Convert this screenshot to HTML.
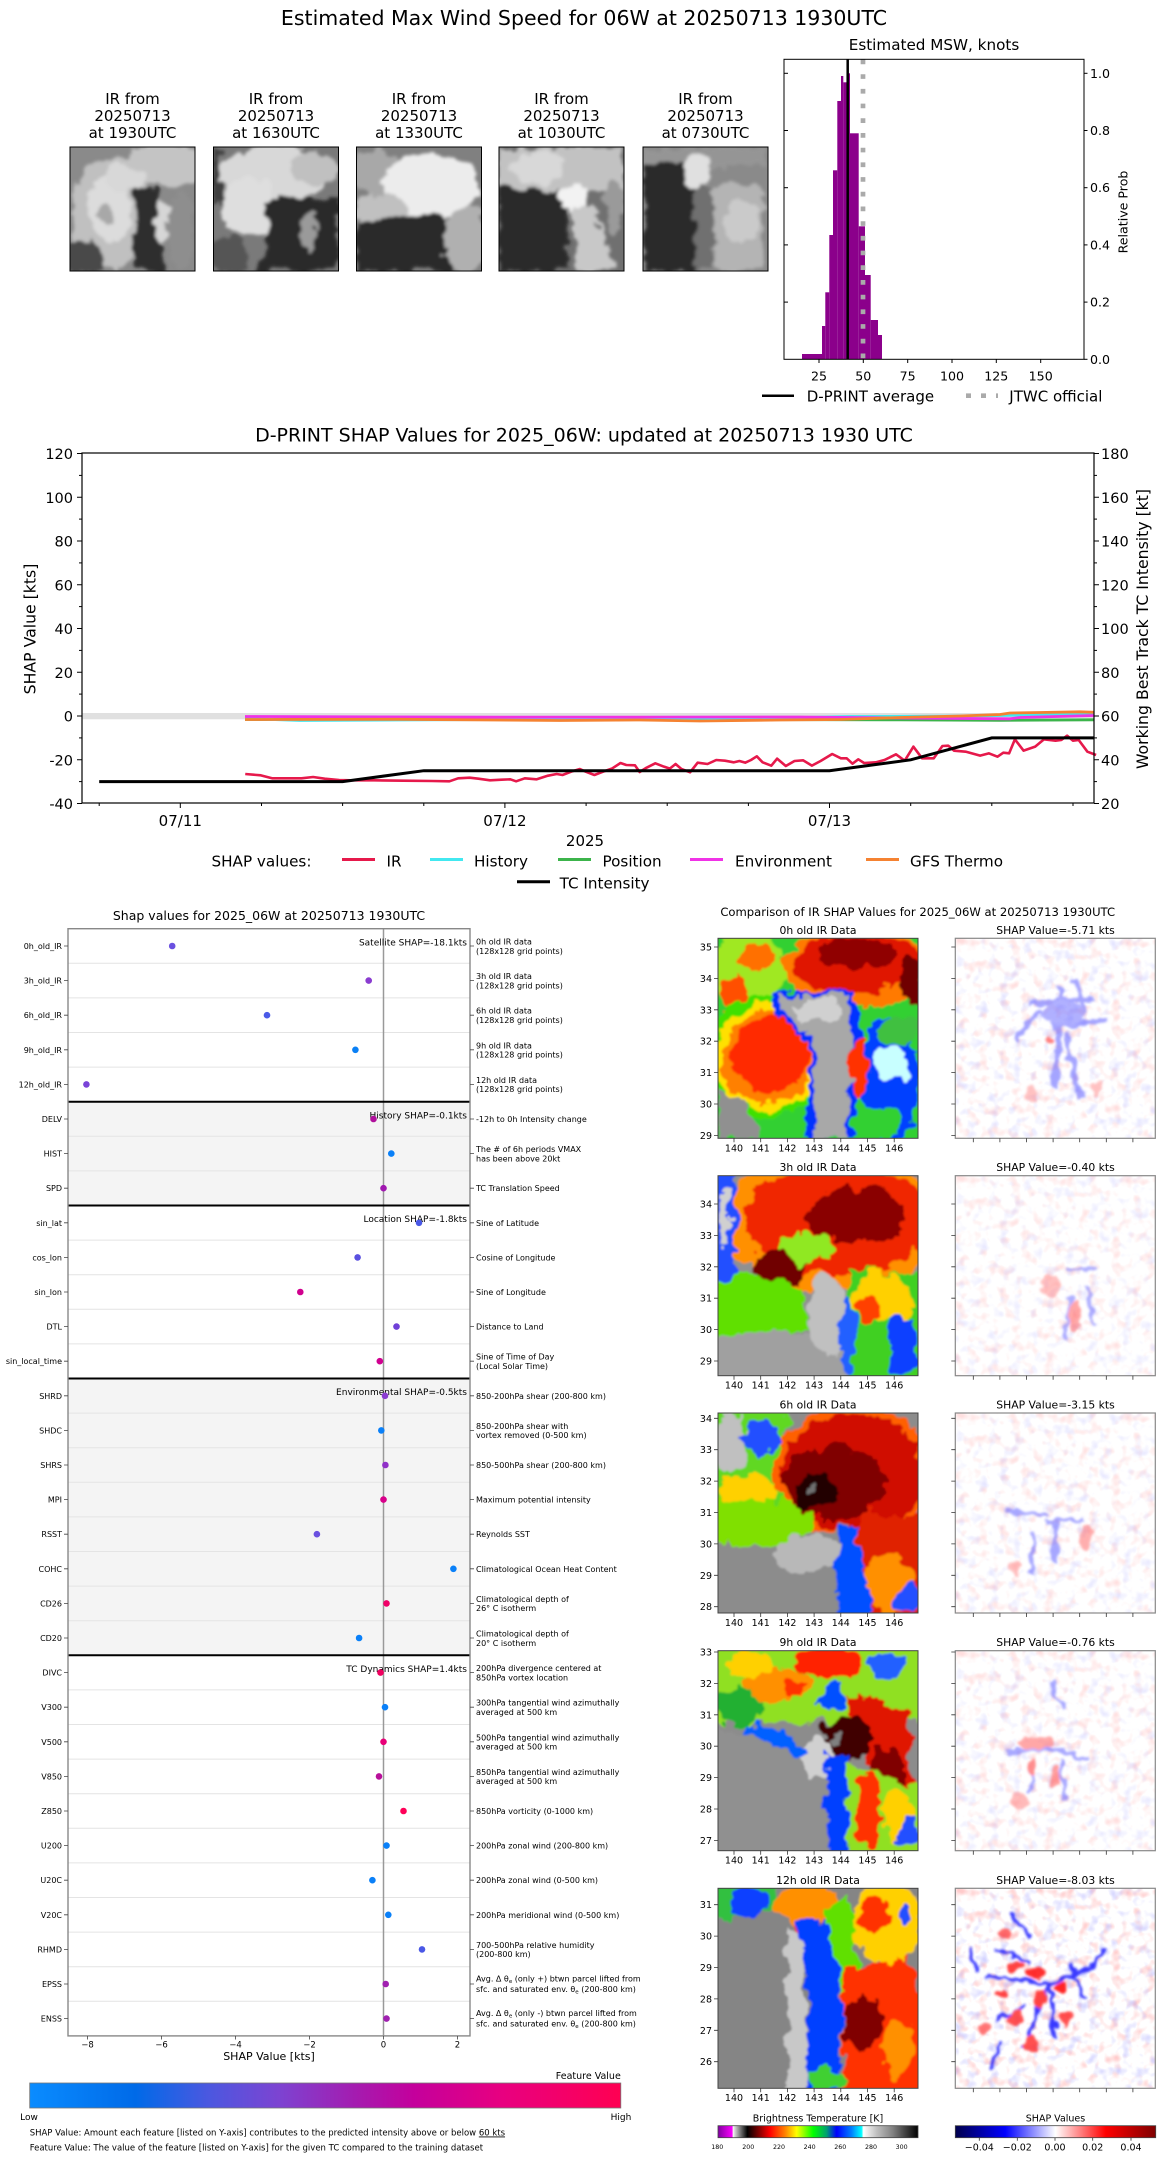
<!DOCTYPE html>
<html><head><meta charset="utf-8"><title>D-PRINT 06W</title>
<style>
html,body{margin:0;padding:0;background:#fff;width:1168px;height:2158px;overflow:hidden}
svg{display:block}
text{font-family:"DejaVu Sans","Liberation Sans",sans-serif;fill:#000}
</style></head><body>
<svg xmlns="http://www.w3.org/2000/svg" width="1168" height="2158" viewBox="0 0 1168 2158">
<defs>
<filter id="bt" filterUnits="userSpaceOnUse" x="-10" y="-10" width="145" height="144">
<feTurbulence type="fractalNoise" baseFrequency="0.07" numOctaves="3" seed="3" result="n"/>
<feDisplacementMap in="SourceGraphic" in2="n" scale="16" xChannelSelector="R" yChannelSelector="G" result="d"/>
<feGaussianBlur in="d" stdDeviation="1.6"/>
</filter>
<filter id="bi" filterUnits="userSpaceOnUse" x="-15" y="-15" width="230" height="230">
<feTurbulence type="fractalNoise" baseFrequency="0.055" numOctaves="3" seed="7" result="n"/>
<feDisplacementMap in="SourceGraphic" in2="n" scale="22" xChannelSelector="R" yChannelSelector="G" result="d"/>
<feGaussianBlur in="d" stdDeviation="1"/>
</filter>
<filter id="bs" filterUnits="userSpaceOnUse" x="-10" y="-10" width="220" height="220">
<feTurbulence type="fractalNoise" baseFrequency="0.08" numOctaves="2" seed="11" result="n"/>
<feDisplacementMap in="SourceGraphic" in2="n" scale="12" xChannelSelector="R" yChannelSelector="G" result="d"/>
<feGaussianBlur in="d" stdDeviation="1.4"/>
</filter>
<filter id="nr" filterUnits="userSpaceOnUse" x="0" y="0" width="200" height="200">
<feTurbulence type="fractalNoise" baseFrequency="0.09" numOctaves="2" seed="5"/>
<feColorMatrix type="matrix" values="0 0 0 0 1  0 0 0 0 0.35  0 0 0 0 0.35  3 0 0 0 -1.55"/>
</filter>
<filter id="nb" filterUnits="userSpaceOnUse" x="0" y="0" width="200" height="200">
<feTurbulence type="fractalNoise" baseFrequency="0.09" numOctaves="2" seed="9"/>
<feColorMatrix type="matrix" values="0 0 0 0 0.35  0 0 0 0 0.35  0 0 0 0 1  0 3 0 0 -1.6"/>
</filter>
<clipPath id="ct"><rect width="125" height="124"/></clipPath>
<clipPath id="ci"><rect width="200" height="200"/></clipPath>
<linearGradient id="gf" x1="0" x2="1" y1="0" y2="0">
<stop offset="0" stop-color="#0a8cff"/><stop offset="0.18" stop-color="#006ae8"/><stop offset="0.3" stop-color="#4a58e0"/><stop offset="0.42" stop-color="#7c44d2"/><stop offset="0.55" stop-color="#a41cb0"/><stop offset="0.65" stop-color="#c4009c"/><stop offset="0.8" stop-color="#e80080"/><stop offset="1" stop-color="#ff0052"/>
</linearGradient>
<linearGradient id="gir" x1="0" x2="1" y1="0" y2="0">
<stop offset="0" stop-color="#8000a0"/><stop offset="0.073" stop-color="#ff00ff"/><stop offset="0.074" stop-color="#ffffff"/><stop offset="0.085" stop-color="#d0d0d0"/><stop offset="0.147" stop-color="#000000"/><stop offset="0.19" stop-color="#600000"/><stop offset="0.26" stop-color="#ff0000"/><stop offset="0.335" stop-color="#ff8000"/><stop offset="0.393" stop-color="#ffff00"/><stop offset="0.476" stop-color="#00ff00"/><stop offset="0.543" stop-color="#00a070"/><stop offset="0.593" stop-color="#0000ff"/><stop offset="0.668" stop-color="#0080ff"/><stop offset="0.718" stop-color="#00ffff"/><stop offset="0.727" stop-color="#ffffff"/><stop offset="0.793" stop-color="#c0c0c0"/><stop offset="0.875" stop-color="#808080"/><stop offset="1" stop-color="#000000"/>
</linearGradient>
<linearGradient id="gse" x1="0" x2="1" y1="0" y2="0">
<stop offset="0" stop-color="#00004c"/><stop offset="0.25" stop-color="#0000ff"/><stop offset="0.5" stop-color="#ffffff"/><stop offset="0.75" stop-color="#ff0000"/><stop offset="1" stop-color="#7f0000"/>
</linearGradient>
</defs>
<rect width="1168" height="2158" fill="#fff"/>

<!-- ================= TOP SECTION ================= -->
<text x="584" y="25" font-size="20.5" text-anchor="middle">Estimated Max Wind Speed for 06W at 20250713 1930UTC</text>

<g font-size="15" text-anchor="middle">
<text x="132.5" y="104">IR from</text><text x="132.5" y="121">20250713</text><text x="132.5" y="138">at 1930UTC</text>
<text x="276" y="104">IR from</text><text x="276" y="121">20250713</text><text x="276" y="138">at 1630UTC</text>
<text x="419" y="104">IR from</text><text x="419" y="121">20250713</text><text x="419" y="138">at 1330UTC</text>
<text x="561.5" y="104">IR from</text><text x="561.5" y="121">20250713</text><text x="561.5" y="138">at 1030UTC</text>
<text x="705.5" y="104">IR from</text><text x="705.5" y="121">20250713</text><text x="705.5" y="138">at 0730UTC</text>
</g>

<!-- thumb 1 -->
<g transform="translate(70,147)"><g clip-path="url(#ct)">
<rect width="125" height="124" fill="#8a8a8a"/>
<g filter="url(#bt)">
<ellipse cx="95" cy="18" rx="40" ry="22" fill="#c4c4c4"/>
<ellipse cx="42" cy="66" rx="40" ry="55" fill="#c0c0c0"/>
<ellipse cx="40" cy="62" rx="22" ry="34" fill="#dcdcdc"/>
<ellipse cx="36" cy="68" rx="8" ry="10" fill="#a8a8a8"/>
<ellipse cx="55" cy="30" rx="20" ry="14" fill="#d8d8d8"/>
<path d="M66 40 L90 42 L92 124 L64 124 Z" fill="#2e2e2e"/>
<ellipse cx="92" cy="75" rx="7" ry="22" fill="#d6d6d6"/>
<ellipse cx="112" cy="85" rx="13" ry="40" fill="#8e8e8e"/>
<ellipse cx="12" cy="110" rx="22" ry="16" fill="#4a4a4a"/>
</g></g><rect width="125" height="124" fill="none" stroke="#000" stroke-width="1"/></g>
<!-- thumb 2 -->
<g transform="translate(213.5,147)"><g clip-path="url(#ct)">
<rect width="125" height="124" fill="#7a7a7a"/>
<g filter="url(#bt)">
<ellipse cx="60" cy="28" rx="55" ry="30" fill="#d8d8d8"/>
<ellipse cx="35" cy="60" rx="28" ry="30" fill="#dedede"/>
<ellipse cx="100" cy="20" rx="25" ry="18" fill="#c0c0c0"/>
<rect x="0" y="0" width="8" height="60" fill="#404040"/>
<path d="M50 55 Q80 50 125 50 L125 124 L40 124 Q60 90 50 55Z" fill="#2c2c2c"/>
<ellipse cx="95" cy="85" rx="8" ry="20" fill="#9a9a9a"/>
<ellipse cx="15" cy="108" rx="20" ry="18" fill="#555"/>
</g></g><rect width="125" height="124" fill="none" stroke="#000" stroke-width="1"/></g>
<!-- thumb 3 -->
<g transform="translate(356.5,147)"><g clip-path="url(#ct)">
<rect width="125" height="124" fill="#808080"/>
<g filter="url(#bt)">
<ellipse cx="20" cy="25" rx="25" ry="25" fill="#a8a8a8"/>
<ellipse cx="75" cy="38" rx="48" ry="32" fill="#ececec"/>
<ellipse cx="25" cy="65" rx="28" ry="18" fill="#c0c0c0"/>
<path d="M0 80 Q50 60 90 70 L95 124 L0 124Z" fill="#2a2a2a"/>
<ellipse cx="110" cy="95" rx="22" ry="35" fill="#b0b0b0"/>
</g></g><rect width="125" height="124" fill="none" stroke="#000" stroke-width="1"/></g>
<!-- thumb 4 -->
<g transform="translate(499,147)"><g clip-path="url(#ct)">
<rect width="125" height="124" fill="#707070"/>
<g filter="url(#bt)">
<rect x="0" y="0" width="125" height="45" fill="#c2c2c2"/>
<ellipse cx="40" cy="20" rx="25" ry="18" fill="#d8d8d8"/>
<path d="M0 40 L65 45 L70 124 L0 124Z" fill="#2a2a2a"/>
<ellipse cx="76" cy="52" rx="14" ry="14" fill="#f2f2f2"/>
<path d="M72 60 L95 60 L118 124 L80 124Z" fill="#c8c8c8"/>
<ellipse cx="115" cy="60" rx="10" ry="30" fill="#9a9a9a"/>
</g></g><rect width="125" height="124" fill="none" stroke="#000" stroke-width="1"/></g>
<!-- thumb 5 -->
<g transform="translate(643,147)"><g clip-path="url(#ct)">
<rect width="125" height="124" fill="#8a8a8a"/>
<g filter="url(#bt)">
<rect x="0" y="0" width="125" height="20" fill="#959595"/>
<path d="M2 18 L55 15 L50 124 L2 124Z" fill="#2c2c2c"/>
<ellipse cx="55" cy="24" rx="14" ry="18" fill="#e0e0e0"/>
<path d="M70 40 L118 35 L122 124 L72 124Z" fill="#b4b4b4"/>
<ellipse cx="98" cy="75" rx="18" ry="22" fill="#cacaca"/>
<rect x="50" y="40" width="20" height="84" fill="#707070"/>
</g></g><rect width="125" height="124" fill="none" stroke="#000" stroke-width="1"/></g>

<!-- histogram -->
<text x="934" y="50" font-size="15.2" text-anchor="middle">Estimated MSW, knots</text>
<g fill="#8b008b">
<rect x="802" y="354" width="20" height="5.3"/>
<rect x="822" y="326" width="3.3" height="33.3"/>
<rect x="825.3" y="292.3" width="4" height="67"/>
<rect x="829.3" y="235" width="3.7" height="124.3"/>
<rect x="833" y="170.3" width="4.3" height="189"/>
<rect x="837.3" y="101" width="3.7" height="258.3"/>
<rect x="841" y="76" width="2.3" height="283.3"/>
<rect x="843.3" y="82.3" width="4" height="277"/>
<rect x="847.3" y="73.3" width="2.7" height="286"/>
<rect x="850" y="133.3" width="8.7" height="226"/>
<rect x="858.7" y="226.3" width="6.3" height="133"/>
<rect x="865" y="275" width="5.7" height="84.3"/>
<rect x="870.7" y="320" width="7.3" height="39.3"/>
<rect x="878" y="335" width="4" height="24.3"/>
</g>
<line x1="847.7" y1="59.3" x2="847.7" y2="359.3" stroke="#000" stroke-width="2.5"/>
<line x1="863" y1="59.5" x2="863" y2="359.3" stroke="#aaaaaa" stroke-width="4.7" stroke-dasharray="4.7 10"/>
<rect x="784" y="59.3" width="300" height="300" fill="none" stroke="#000" stroke-width="1"/>
<g stroke="#000" stroke-width="1">
<line x1="819" y1="359.3" x2="819" y2="363"/><line x1="863.3" y1="359.3" x2="863.3" y2="363"/><line x1="907.7" y1="359.3" x2="907.7" y2="363"/><line x1="952" y1="359.3" x2="952" y2="363"/><line x1="996.3" y1="359.3" x2="996.3" y2="363"/><line x1="1040.7" y1="359.3" x2="1040.7" y2="363"/>
<line x1="1084" y1="359.3" x2="1087.5" y2="359.3"/><line x1="1084" y1="302.1" x2="1087.5" y2="302.1"/><line x1="1084" y1="244.9" x2="1087.5" y2="244.9"/><line x1="1084" y1="187.7" x2="1087.5" y2="187.7"/><line x1="1084" y1="130.5" x2="1087.5" y2="130.5"/><line x1="1084" y1="73.3" x2="1087.5" y2="73.3"/>
<line x1="784" y1="302.1" x2="788" y2="302.1"/><line x1="784" y1="244.9" x2="788" y2="244.9"/><line x1="784" y1="187.7" x2="788" y2="187.7"/><line x1="784" y1="130.5" x2="788" y2="130.5"/><line x1="784" y1="73.3" x2="788" y2="73.3"/>
</g>
<g font-size="12.6" text-anchor="middle">
<text x="819" y="380.5">25</text><text x="863.3" y="380.5">50</text><text x="907.7" y="380.5">75</text><text x="952" y="380.5">100</text><text x="996.3" y="380.5">125</text><text x="1040.7" y="380.5">150</text>
</g>
<g font-size="12.6">
<text x="1090" y="363.8">0.0</text><text x="1090" y="306.6">0.2</text><text x="1090" y="249.4">0.4</text><text x="1090" y="192.2">0.6</text><text x="1090" y="135">0.8</text><text x="1090" y="77.8">1.0</text>
</g>
<text transform="translate(1127.5,212) rotate(-90)" font-size="12.6" text-anchor="middle">Relative Prob</text>
<line x1="762" y1="395.7" x2="794" y2="395.7" stroke="#000" stroke-width="2.5"/>
<text x="806.7" y="401.5" font-size="15">D-PRINT average</text>
<line x1="966" y1="395.7" x2="998" y2="395.7" stroke="#aaaaaa" stroke-width="4.7" stroke-dasharray="5 10"/>
<text x="1009.3" y="401.5" font-size="15">JTWC official</text>

<!-- ================= MIDDLE TIME SERIES ================= -->
<text x="584" y="441.5" font-size="19" text-anchor="middle">D-PRINT SHAP Values for 2025_06W: updated at 20250713 1930 UTC</text>
<rect x="82" y="713" width="1012" height="6.3" fill="#e0e0e0"/>
<polyline fill="none" stroke="#3cb44b" stroke-width="2.8" points="245,719.5 600,719.5 900,719.8 1000,720.3 1094,719.8"/>
<polyline fill="none" stroke="#42e8f0" stroke-width="2.8" points="245,718.5 300,720.5 400,720 600,719 800,717.5 850,716.5 950,716.2 1000,715.5 1094,714"/>
<polyline fill="none" stroke="#f032e6" stroke-width="2.8" points="245,716.5 500,717.2 800,717 900,718 1010,718.8 1020,717.5 1094,715.5"/>
<polyline fill="none" stroke="#f58231" stroke-width="2.8" points="245,719.5 400,719.3 560,720.5 640,720 700,721 780,720 840,719.5 900,717.5 960,716 1000,714.5 1010,713 1040,712.5 1080,711.8 1094,712.3"/>
<g transform="translate(200,690) scale(0.58,0.33333)">
<polyline fill="none" stroke="#e6194b" stroke-width="2.6" vector-effect="non-scaling-stroke" stroke-linejoin="round" points="78,252 105,256 125,265 150,265 175,265 195,261 215,266 240,270 260,271 300,271 350,272 400,273 430,274 445,265 465,263 480,266 500,271 520,269 535,268 545,274 560,265 580,268 600,257 615,252 625,255 640,245 655,237 665,245 680,255 695,245 710,236 725,219 735,225 750,226 758,246 770,233 785,220 800,230 810,236 820,222 830,237 845,247 858,218 875,222 890,210 905,212 920,217 930,213 940,218 950,210 960,199 970,217 985,227 995,206 1010,228 1025,213 1040,211 1055,227 1070,213 1090,192 1105,205 1115,205 1125,221 1135,208 1145,219 1165,217 1180,210 1200,193 1215,212 1230,170 1245,205 1265,205 1280,168 1290,167 1300,182 1320,185 1345,197 1360,190 1375,200 1385,188 1395,190 1405,148 1420,182 1440,170 1455,148 1475,152 1485,150 1495,137 1505,152 1515,150 1530,185 1545,195"/>
</g>
<polyline fill="none" stroke="#000" stroke-width="3" points="99.2,781.6 342.6,781.6 423.8,770.7 829.5,770.7 910.7,759.8 991.8,737.9 1094,737.9"/>
<rect x="82" y="453" width="1012" height="350" fill="none" stroke="#000" stroke-width="1.2"/>
<g stroke="#000" stroke-width="1">
<line x1="77" y1="453.5" x2="82" y2="453.5"/><line x1="77" y1="497.25" x2="82" y2="497.25"/><line x1="77" y1="541" x2="82" y2="541"/><line x1="77" y1="584.75" x2="82" y2="584.75"/><line x1="77" y1="628.5" x2="82" y2="628.5"/><line x1="77" y1="672.25" x2="82" y2="672.25"/><line x1="77" y1="716" x2="82" y2="716"/><line x1="77" y1="759.75" x2="82" y2="759.75"/><line x1="77" y1="803.5" x2="82" y2="803.5"/>
<line x1="79" y1="475.4" x2="82" y2="475.4"/><line x1="79" y1="519.1" x2="82" y2="519.1"/><line x1="79" y1="562.9" x2="82" y2="562.9"/><line x1="79" y1="606.6" x2="82" y2="606.6"/><line x1="79" y1="650.4" x2="82" y2="650.4"/><line x1="79" y1="694.1" x2="82" y2="694.1"/><line x1="79" y1="737.9" x2="82" y2="737.9"/><line x1="79" y1="781.6" x2="82" y2="781.6"/>
<line x1="1094" y1="453.5" x2="1099" y2="453.5"/><line x1="1094" y1="497.25" x2="1099" y2="497.25"/><line x1="1094" y1="541" x2="1099" y2="541"/><line x1="1094" y1="584.75" x2="1099" y2="584.75"/><line x1="1094" y1="628.5" x2="1099" y2="628.5"/><line x1="1094" y1="672.25" x2="1099" y2="672.25"/><line x1="1094" y1="716" x2="1099" y2="716"/><line x1="1094" y1="759.75" x2="1099" y2="759.75"/><line x1="1094" y1="803.5" x2="1099" y2="803.5"/>
<line x1="1094" y1="475.4" x2="1097" y2="475.4"/><line x1="1094" y1="519.1" x2="1097" y2="519.1"/><line x1="1094" y1="562.9" x2="1097" y2="562.9"/><line x1="1094" y1="606.6" x2="1097" y2="606.6"/><line x1="1094" y1="650.4" x2="1097" y2="650.4"/><line x1="1094" y1="694.1" x2="1097" y2="694.1"/><line x1="1094" y1="737.9" x2="1097" y2="737.9"/><line x1="1094" y1="781.6" x2="1097" y2="781.6"/>
<line x1="99.2" y1="803" x2="99.2" y2="806"/><line x1="180.3" y1="803" x2="180.3" y2="808"/><line x1="261.5" y1="803" x2="261.5" y2="806"/><line x1="342.6" y1="803" x2="342.6" y2="806"/><line x1="423.8" y1="803" x2="423.8" y2="806"/><line x1="504.9" y1="803" x2="504.9" y2="808"/><line x1="586.1" y1="803" x2="586.1" y2="806"/><line x1="667.2" y1="803" x2="667.2" y2="806"/><line x1="748.4" y1="803" x2="748.4" y2="806"/><line x1="829.5" y1="803" x2="829.5" y2="808"/><line x1="910.7" y1="803" x2="910.7" y2="806"/><line x1="991.8" y1="803" x2="991.8" y2="806"/><line x1="1073" y1="803" x2="1073" y2="806"/>
</g>
<g font-size="14.5" text-anchor="end">
<text x="73" y="459">120</text><text x="73" y="502.8">100</text><text x="73" y="546.5">80</text><text x="73" y="590.3">60</text><text x="73" y="634">40</text><text x="73" y="677.8">20</text><text x="73" y="721.5">0</text><text x="73" y="765.3">-20</text><text x="73" y="809">-40</text>
</g>
<g font-size="14.5">
<text x="1101" y="459">180</text><text x="1101" y="502.8">160</text><text x="1101" y="546.5">140</text><text x="1101" y="590.3">120</text><text x="1101" y="634">100</text><text x="1101" y="677.8">80</text><text x="1101" y="721.5">60</text><text x="1101" y="765.3">40</text><text x="1101" y="809">20</text>
</g>
<g font-size="15" text-anchor="middle">
<text x="180.3" y="826">07/11</text><text x="504.9" y="826">07/12</text><text x="829.5" y="826">07/13</text>
<text x="585" y="846">2025</text>
</g>
<text transform="translate(35.5,629) rotate(-90)" font-size="15.7" text-anchor="middle">SHAP Value [kts]</text>
<text transform="translate(1148,629) rotate(-90)" font-size="15.7" text-anchor="middle">Working Best Track TC Intensity [kt]</text>
<g font-size="15.2">
<text x="211.5" y="866.5">SHAP values:</text>
<line x1="342" y1="859.5" x2="375" y2="859.5" stroke="#e6194b" stroke-width="3"/><text x="386.5" y="866.5">IR</text>
<line x1="430" y1="859.5" x2="463" y2="859.5" stroke="#42e8f0" stroke-width="3"/><text x="474" y="866.5">History</text>
<line x1="558" y1="859.5" x2="591" y2="859.5" stroke="#3cb44b" stroke-width="3"/><text x="602.5" y="866.5">Position</text>
<line x1="690" y1="859.5" x2="723" y2="859.5" stroke="#f032e6" stroke-width="3"/><text x="735" y="866.5">Environment</text>
<line x1="866" y1="859.5" x2="899" y2="859.5" stroke="#f58231" stroke-width="3"/><text x="910" y="866.5">GFS Thermo</text>
<line x1="517" y1="881.7" x2="550" y2="881.7" stroke="#000" stroke-width="3"/><text x="559.6" y="888.3">TC Intensity</text>
</g>

<!-- ================= LOWER LEFT SHAP PANEL ================= -->
<text x="269" y="920" font-size="12.5" text-anchor="middle">Shap values for 2025_06W at 20250713 1930UTC</text>
<rect x="68" y="1101.7" width="402" height="103.8" fill="#f4f4f4"/>
<rect x="68" y="1378.5" width="402" height="276.8" fill="#f4f4f4"/>
<g stroke="#e4e4e4" stroke-width="1">
<line x1="68" x2="470" y1="963.3" y2="963.3"/><line x1="68" x2="470" y1="997.9" y2="997.9"/><line x1="68" x2="470" y1="1032.5" y2="1032.5"/><line x1="68" x2="470" y1="1067.1" y2="1067.1"/>
<line x1="68" x2="470" y1="1136.3" y2="1136.3"/><line x1="68" x2="470" y1="1170.9" y2="1170.9"/>
<line x1="68" x2="470" y1="1240.1" y2="1240.1"/><line x1="68" x2="470" y1="1274.7" y2="1274.7"/><line x1="68" x2="470" y1="1309.3" y2="1309.3"/><line x1="68" x2="470" y1="1343.9" y2="1343.9"/>
<line x1="68" x2="470" y1="1413.1" y2="1413.1"/><line x1="68" x2="470" y1="1447.7" y2="1447.7"/><line x1="68" x2="470" y1="1482.3" y2="1482.3"/><line x1="68" x2="470" y1="1516.9" y2="1516.9"/><line x1="68" x2="470" y1="1551.5" y2="1551.5"/><line x1="68" x2="470" y1="1586.1" y2="1586.1"/><line x1="68" x2="470" y1="1620.7" y2="1620.7"/>
<line x1="68" x2="470" y1="1689.9" y2="1689.9"/><line x1="68" x2="470" y1="1724.5" y2="1724.5"/><line x1="68" x2="470" y1="1759.1" y2="1759.1"/><line x1="68" x2="470" y1="1793.7" y2="1793.7"/><line x1="68" x2="470" y1="1828.3" y2="1828.3"/><line x1="68" x2="470" y1="1862.9" y2="1862.9"/><line x1="68" x2="470" y1="1897.5" y2="1897.5"/><line x1="68" x2="470" y1="1932.1" y2="1932.1"/><line x1="68" x2="470" y1="1966.7" y2="1966.7"/><line x1="68" x2="470" y1="2001.3" y2="2001.3"/>
</g>
<line x1="383.5" y1="928.7" x2="383.5" y2="2035.9" stroke="#999" stroke-width="1.5"/>
<g stroke="#000" stroke-width="2">
<line x1="68" x2="470" y1="1101.7" y2="1101.7"/><line x1="68" x2="470" y1="1205.5" y2="1205.5"/><line x1="68" x2="470" y1="1378.5" y2="1378.5"/><line x1="68" x2="470" y1="1655.3" y2="1655.3"/>
</g>
<rect x="68" y="928.7" width="402" height="1107.2" fill="none" stroke="#888" stroke-width="1.4"/>
<g stroke="#444" stroke-width="0.8">
<path d="M64 946h4M64 980.6h4M64 1015.2h4M64 1049.8h4M64 1084.4h4M64 1119h4M64 1153.6h4M64 1188.2h4M64 1222.8h4M64 1257.4h4M64 1292h4M64 1326.6h4M64 1361.2h4M64 1395.8h4M64 1430.4h4M64 1465h4M64 1499.6h4M64 1534.2h4M64 1568.8h4M64 1603.4h4M64 1638h4M64 1672.6h4M64 1707.2h4M64 1741.8h4M64 1776.4h4M64 1811h4M64 1845.6h4M64 1880.2h4M64 1914.8h4M64 1949.4h4M64 1984h4M64 2018.6h4"/>
<path d="M470 946h4M470 980.6h4M470 1015.2h4M470 1049.8h4M470 1084.4h4M470 1119h4M470 1153.6h4M470 1188.2h4M470 1222.8h4M470 1257.4h4M470 1292h4M470 1326.6h4M470 1361.2h4M470 1395.8h4M470 1430.4h4M470 1465h4M470 1499.6h4M470 1534.2h4M470 1568.8h4M470 1603.4h4M470 1638h4M470 1672.6h4M470 1707.2h4M470 1741.8h4M470 1776.4h4M470 1811h4M470 1845.6h4M470 1880.2h4M470 1914.8h4M470 1949.4h4M470 1984h4M470 2018.6h4"/>
<path d="M87.5 2036v3.5M161.5 2036v3.5M235.5 2036v3.5M309.5 2036v3.5M383.5 2036v3.5M457.5 2036v3.5"/>
</g>
<g font-size="8" text-anchor="end" fill="#222">
<text x="62" y="949">0h_old_IR</text><text x="62" y="983.6">3h_old_IR</text><text x="62" y="1018.2">6h_old_IR</text><text x="62" y="1052.8">9h_old_IR</text><text x="62" y="1087.4">12h_old_IR</text>
<text x="62" y="1122">DELV</text><text x="62" y="1156.6">HIST</text><text x="62" y="1191.2">SPD</text>
<text x="62" y="1225.8">sin_lat</text><text x="62" y="1260.4">cos_lon</text><text x="62" y="1295">sin_lon</text><text x="62" y="1329.6">DTL</text><text x="62" y="1364.2">sin_local_time</text>
<text x="62" y="1398.8">SHRD</text><text x="62" y="1433.4">SHDC</text><text x="62" y="1468">SHRS</text><text x="62" y="1502.6">MPI</text><text x="62" y="1537.2">RSST</text><text x="62" y="1571.8">COHC</text><text x="62" y="1606.4">CD26</text><text x="62" y="1641">CD20</text>
<text x="62" y="1675.6">DIVC</text><text x="62" y="1710.2">V300</text><text x="62" y="1744.8">V500</text><text x="62" y="1779.4">V850</text><text x="62" y="1814">Z850</text><text x="62" y="1848.6">U200</text><text x="62" y="1883.2">U20C</text><text x="62" y="1917.8">V20C</text><text x="62" y="1952.4">RHMD</text><text x="62" y="1987">EPSS</text><text x="62" y="2021.6">ENSS</text>
</g>
<g font-size="8" fill="#222">
<text x="476" y="944.5">0h old IR data</text><text x="476" y="953.8">(128x128 grid points)</text>
<text x="476" y="979.1">3h old IR data</text><text x="476" y="988.4">(128x128 grid points)</text>
<text x="476" y="1013.7">6h old IR data</text><text x="476" y="1023">(128x128 grid points)</text>
<text x="476" y="1048.3">9h old IR data</text><text x="476" y="1057.6">(128x128 grid points)</text>
<text x="476" y="1082.9">12h old IR data</text><text x="476" y="1092.2">(128x128 grid points)</text>
<text x="476" y="1122">-12h to 0h Intensity change</text>
<text x="476" y="1152.1">The # of 6h periods VMAX</text><text x="476" y="1161.4">has been above 20kt</text>
<text x="476" y="1191.2">TC Translation Speed</text>
<text x="476" y="1225.8">Sine of Latitude</text>
<text x="476" y="1260.4">Cosine of Longitude</text>
<text x="476" y="1295">Sine of Longitude</text>
<text x="476" y="1329.6">Distance to Land</text>
<text x="476" y="1359.7">Sine of Time of Day</text><text x="476" y="1369">(Local Solar Time)</text>
<text x="476" y="1398.8">850-200hPa shear (200-800 km)</text>
<text x="476" y="1428.9">850-200hPa shear with</text><text x="476" y="1438.2">vortex removed (0-500 km)</text>
<text x="476" y="1468">850-500hPa shear (200-800 km)</text>
<text x="476" y="1502.6">Maximum potential intensity</text>
<text x="476" y="1537.2">Reynolds SST</text>
<text x="476" y="1571.8">Climatological Ocean Heat Content</text>
<text x="476" y="1601.9">Climatological depth of</text><text x="476" y="1611.2">26° C isotherm</text>
<text x="476" y="1636.5">Climatological depth of</text><text x="476" y="1645.8">20° C isotherm</text>
<text x="476" y="1671.1">200hPa divergence centered at</text><text x="476" y="1680.4">850hPa vortex location</text>
<text x="476" y="1705.7">300hPa tangential wind azimuthally</text><text x="476" y="1715">averaged at 500 km</text>
<text x="476" y="1740.3">500hPa tangential wind azimuthally</text><text x="476" y="1749.6">averaged at 500 km</text>
<text x="476" y="1774.9">850hPa tangential wind azimuthally</text><text x="476" y="1784.2">averaged at 500 km</text>
<text x="476" y="1814">850hPa vorticity (0-1000 km)</text>
<text x="476" y="1848.6">200hPa zonal wind (200-800 km)</text>
<text x="476" y="1883.2">200hPa zonal wind (0-500 km)</text>
<text x="476" y="1917.8">200hPa meridional wind (0-500 km)</text>
<text x="476" y="1947.9">700-500hPa relative humidity</text><text x="476" y="1957.2">(200-800 km)</text>
<text x="476" y="1981.5">Avg. Δ θ<tspan font-size="5.5" dy="1.5">e</tspan><tspan dy="-1.5"> (only +) btwn parcel lifted from</tspan></text><text x="476" y="1992">sfc. and saturated env. θ<tspan font-size="5.5" dy="1.5">e</tspan><tspan dy="-1.5"> (200-800 km)</tspan></text>
<text x="476" y="2016.1">Avg. Δ θ<tspan font-size="5.5" dy="1.5">e</tspan><tspan dy="-1.5"> (only -) btwn parcel lifted from</tspan></text><text x="476" y="2026.6">sfc. and saturated env. θ<tspan font-size="5.5" dy="1.5">e</tspan><tspan dy="-1.5"> (200-800 km)</tspan></text>
</g>
<g font-size="9" text-anchor="end" fill="#222">
<text x="467" y="945.5">Satellite SHAP=-18.1kts</text>
<text x="467" y="1118.5">History SHAP=-0.1kts</text>
<text x="467" y="1222">Location SHAP=-1.8kts</text>
<text x="467" y="1395">Environmental SHAP=-0.5kts</text>
<text x="467" y="1672">TC Dynamics SHAP=1.4kts</text>
</g>
<g>
<circle cx="172.2" cy="946" r="3.3" fill="#6a50e0"/>
<circle cx="368.7" cy="980.6" r="3.3" fill="#8a3cd0"/>
<circle cx="267" cy="1015.2" r="3.3" fill="#4a5ae8"/>
<circle cx="355.4" cy="1049.8" r="3.3" fill="#0a80f5"/>
<circle cx="86.4" cy="1084.4" r="3.3" fill="#7a44d8"/>
<circle cx="373.5" cy="1119" r="3.3" fill="#b0109c"/>
<circle cx="391.3" cy="1153.6" r="3.3" fill="#0a80f8"/>
<circle cx="383.5" cy="1188.2" r="3.3" fill="#a018b0"/>
<circle cx="419" cy="1222.8" r="3.3" fill="#4a58e6"/>
<circle cx="357.6" cy="1257.4" r="3.3" fill="#5a50e0"/>
<circle cx="300.3" cy="1292" r="3.3" fill="#d0008e"/>
<circle cx="396.5" cy="1326.6" r="3.3" fill="#7040d8"/>
<circle cx="379.8" cy="1361.2" r="3.3" fill="#d00090"/>
<circle cx="385" cy="1395.8" r="3.3" fill="#8a3cd0"/>
<circle cx="381.3" cy="1430.4" r="3.3" fill="#0a80f8"/>
<circle cx="385.4" cy="1465" r="3.3" fill="#9030c8"/>
<circle cx="383.5" cy="1499.6" r="3.3" fill="#d8008a"/>
<circle cx="316.9" cy="1534.2" r="3.3" fill="#6a50e0"/>
<circle cx="453.4" cy="1568.8" r="3.3" fill="#0a80f8"/>
<circle cx="386.5" cy="1603.4" r="3.3" fill="#f00068"/>
<circle cx="359.1" cy="1638" r="3.3" fill="#0a80f8"/>
<circle cx="380.5" cy="1672.6" r="3.3" fill="#f00060"/>
<circle cx="385" cy="1707.2" r="3.3" fill="#0a80f8"/>
<circle cx="383.5" cy="1741.8" r="3.3" fill="#e80078"/>
<circle cx="379" cy="1776.4" r="3.3" fill="#b8109a"/>
<circle cx="403.5" cy="1811" r="3.3" fill="#ff0058"/>
<circle cx="386.5" cy="1845.6" r="3.3" fill="#0a80f8"/>
<circle cx="372.4" cy="1880.2" r="3.3" fill="#0a80f8"/>
<circle cx="388.3" cy="1914.8" r="3.3" fill="#0a80f8"/>
<circle cx="422" cy="1949.4" r="3.3" fill="#4a58e6"/>
<circle cx="385.7" cy="1984" r="3.3" fill="#a020b0"/>
<circle cx="386.5" cy="2018.6" r="3.3" fill="#a020b0"/>
</g>
<g font-size="8.5" text-anchor="middle" fill="#222">
<text x="87.5" y="2047.5">−8</text><text x="161.5" y="2047.5">−6</text><text x="235.5" y="2047.5">−4</text><text x="309.5" y="2047.5">−2</text><text x="383.5" y="2047.5">0</text><text x="457.5" y="2047.5">2</text>
</g>
<text x="269" y="2060" font-size="11" text-anchor="middle">SHAP Value [kts]</text>
<text x="620.8" y="2079" font-size="9.5" text-anchor="end">Feature Value</text>
<rect x="29.7" y="2083" width="591.1" height="25" fill="url(#gf)" stroke="#777" stroke-width="0.8"/>
<text x="29" y="2120" font-size="9" text-anchor="middle" fill="#222">Low</text>
<text x="621" y="2120" font-size="9" text-anchor="middle" fill="#222">High</text>
<text x="29.7" y="2135.5" font-size="8.5" fill="#222">SHAP Value: Amount each feature [listed on Y-axis] contributes to the predicted intensity above or below <tspan text-decoration="underline">60 kts</tspan></text>
<text x="29.7" y="2150.5" font-size="8.5" fill="#222">Feature Value: The value of the feature [listed on Y-axis] for the given TC compared to the training dataset</text>

<!-- ================= RIGHT IR PANEL ================= -->
<text x="917.7" y="916" font-size="11.6" text-anchor="middle" fill="#222">Comparison of IR SHAP Values for 2025_06W at 20250713 1930UTC</text>

<!-- ROW 0 -->
<g transform="translate(0,938.3)">
<text x="818" y="-4.5" font-size="10.8" text-anchor="middle" fill="#222">0h old IR Data</text>
<text x="1055.5" y="-4.5" font-size="10.8" text-anchor="middle" fill="#222">SHAP Value=-5.71 kts</text>
<g transform="translate(718,0)"><g clip-path="url(#ci)">
<rect width="200" height="200" fill="#30d030"/>
<g filter="url(#bi)">
<rect x="-10" y="-10" width="220" height="220" fill="#30d030"/>
<ellipse cx="30" cy="30" rx="40" ry="35" fill="#a0e820"/>
<ellipse cx="40" cy="20" rx="18" ry="12" fill="#ff7000"/>
<ellipse cx="15" cy="55" rx="12" ry="18" fill="#ff5000"/>
<ellipse cx="140" cy="30" rx="75" ry="40" fill="#ff7a00"/>
<ellipse cx="140" cy="25" rx="65" ry="30" fill="#e01800"/>
<ellipse cx="135" cy="15" rx="40" ry="14" fill="#900000"/>
<ellipse cx="195" cy="45" rx="12" ry="25" fill="#700000"/>
<circle cx="50" cy="118" r="62" fill="#40e000"/>
<circle cx="50" cy="118" r="54" fill="#ffe000"/>
<circle cx="50" cy="118" r="46" fill="#ff8000"/>
<circle cx="52" cy="116" r="38" fill="#ff2a00"/>
<path d="M55 55 L140 50 L142 110 L138 200 L86 200 L94 120 L85 95 L58 82 Z" fill="#0030ff"/>
<path d="M62 58 L133 55 L132 110 L128 200 L95 200 L100 120 L90 92 L65 78 Z" fill="#a8a8a8"/>
<ellipse cx="100" cy="72" rx="25" ry="12" fill="#d0d0d0"/>
<path d="M0 150 L25 162 L45 200 L0 200 Z" fill="#909090"/>
<ellipse cx="172" cy="140" rx="30" ry="65" fill="#0040ff"/>
<ellipse cx="172" cy="125" rx="18" ry="18" fill="#c8ffff"/>
<ellipse cx="180" cy="90" rx="20" ry="15" fill="#40c040"/>
<ellipse cx="140" cy="130" rx="10" ry="30" fill="#ff3000"/>
<ellipse cx="160" cy="185" rx="25" ry="15" fill="#30d030"/>
</g></g><rect width="200" height="200" fill="none" stroke="#444" stroke-width="1"/></g>
<g transform="translate(955.3,0)"><g clip-path="url(#ci)">
<rect width="200" height="200" fill="#fff"/>
<rect width="200" height="200" filter="url(#nr)" opacity="0.35"/>
<rect width="200" height="200" filter="url(#nb)" opacity="0.3"/>
<g filter="url(#bs)" opacity="0.55">
<path d="M75 65 L140 60 M95 88 L150 82 M105 45 L100 150 M110 95 L125 160 M85 72 L60 100 M120 40 L130 75" stroke="#5a5aff" stroke-width="5" fill="none"/>
<ellipse cx="108" cy="75" rx="22" ry="12" fill="#7070ff"/>
<circle cx="95" cy="102" r="4" fill="#ff2020"/>
<ellipse cx="75" cy="155" rx="5" ry="8" fill="#ff9090"/>
<ellipse cx="140" cy="150" rx="5" ry="8" fill="#ff9090"/>
</g></g><rect width="200" height="200" fill="none" stroke="#888" stroke-width="1.2"/></g>
</g>

<!-- ROW 1 -->
<g transform="translate(0,1175.7)">
<text x="818" y="-4.5" font-size="10.8" text-anchor="middle" fill="#222">3h old IR Data</text>
<text x="1055.5" y="-4.5" font-size="10.8" text-anchor="middle" fill="#222">SHAP Value=-0.40 kts</text>
<g transform="translate(718,0)"><g clip-path="url(#ci)">
<rect width="200" height="200" fill="#909090"/>
<g filter="url(#bi)">
<rect x="-10" y="-10" width="220" height="220" fill="#909090"/>
<ellipse cx="115" cy="45" rx="110" ry="70" fill="#ff9000"/>
<ellipse cx="120" cy="45" rx="95" ry="55" fill="#f02800"/>
<ellipse cx="140" cy="40" rx="50" ry="28" fill="#8a0000"/>
<ellipse cx="62" cy="92" rx="26" ry="18" fill="#700000"/>
<ellipse cx="88" cy="72" rx="26" ry="16" fill="#90e820"/>
<rect x="-10" y="-10" width="28" height="150" fill="#2050ff"/>
<rect x="4" y="10" width="8" height="60" fill="#d0d0d0"/>
<path d="M-10 105 Q40 95 80 110 L90 150 Q40 160 -10 170 Z" fill="#60e000"/>
<path d="M-10 165 Q50 150 90 155 L100 120 L125 110 L130 210 L-10 210 Z" fill="#a0a0a0"/>
<ellipse cx="110" cy="140" rx="20" ry="40" fill="#c0c0c0"/>
<rect x="130" y="95" width="80" height="115" fill="#40d020"/>
<ellipse cx="165" cy="120" rx="30" ry="25" fill="#ffd000"/>
<ellipse cx="150" cy="135" rx="10" ry="15" fill="#ff4000"/>
<ellipse cx="185" cy="170" rx="15" ry="30" fill="#1040ff"/>
<ellipse cx="130" cy="160" rx="8" ry="40" fill="#2060ff"/>
</g></g><rect width="200" height="200" fill="none" stroke="#444" stroke-width="1"/></g>
<g transform="translate(955.3,0)"><g clip-path="url(#ci)">
<rect width="200" height="200" fill="#fff"/>
<rect width="200" height="200" filter="url(#nr)" opacity="0.3"/>
<rect width="200" height="200" filter="url(#nb)" opacity="0.22"/>
<g filter="url(#bs)" opacity="0.5">
<path d="M110 95 L140 92 M130 110 L140 150 M115 120 L110 165" stroke="#6060ff" stroke-width="4" fill="none"/>
<ellipse cx="120" cy="140" rx="6" ry="16" fill="#ff5050"/>
<ellipse cx="95" cy="110" rx="8" ry="12" fill="#ff8080"/>
</g></g><rect width="200" height="200" fill="none" stroke="#888" stroke-width="1.2"/></g>
</g>

<!-- ROW 2 -->
<g transform="translate(0,1413)">
<text x="818" y="-4.5" font-size="10.8" text-anchor="middle" fill="#222">6h old IR Data</text>
<text x="1055.5" y="-4.5" font-size="10.8" text-anchor="middle" fill="#222">SHAP Value=-3.15 kts</text>
<g transform="translate(718,0)"><g clip-path="url(#ci)">
<rect width="200" height="200" fill="#8c8c8c"/>
<g filter="url(#bi)">
<rect x="-10" y="-10" width="220" height="220" fill="#8c8c8c"/>
<rect x="-10" y="-10" width="80" height="110" fill="#60d820"/>
<ellipse cx="12" cy="30" rx="16" ry="30" fill="#c0c0c0"/>
<ellipse cx="45" cy="25" rx="20" ry="15" fill="#2050ff"/>
<ellipse cx="30" cy="78" rx="28" ry="16" fill="#ffd000"/>
<ellipse cx="135" cy="60" rx="80" ry="68" fill="#ff6000"/>
<ellipse cx="135" cy="60" rx="72" ry="58" fill="#d01000"/>
<ellipse cx="115" cy="70" rx="50" ry="38" fill="#800000"/>
<ellipse cx="95" cy="78" rx="20" ry="18" fill="#200000"/>
<circle cx="95" cy="77" r="6" fill="#707070"/>
<path d="M140 100 L210 100 L210 210 L150 210 Z" fill="#e02000"/>
<ellipse cx="170" cy="170" rx="25" ry="30" fill="#ff9000"/>
<ellipse cx="190" cy="185" rx="12" ry="15" fill="#2050ff"/>
<path d="M-10 85 L80 90 L100 110 L60 135 L-10 130 Z" fill="#80e000"/>
<path d="M-10 130 Q50 150 80 130 L130 110 L135 210 L-10 210 Z" fill="#8c8c8c"/>
<ellipse cx="90" cy="140" rx="35" ry="18" fill="#b8b8b8"/>
<path d="M118 115 L140 110 L152 210 L120 210 Z" fill="#0050ff"/>
</g></g><rect width="200" height="200" fill="none" stroke="#444" stroke-width="1"/></g>
<g transform="translate(955.3,0)"><g clip-path="url(#ci)">
<rect width="200" height="200" fill="#fff"/>
<rect width="200" height="200" filter="url(#nr)" opacity="0.32"/>
<rect width="200" height="200" filter="url(#nb)" opacity="0.25"/>
<g filter="url(#bs)" opacity="0.5">
<path d="M50 97 L95 103 M90 110 L130 105 M80 120 L75 160 M100 110 L100 150" stroke="#5050ff" stroke-width="4" fill="none"/>
<ellipse cx="130" cy="125" rx="6" ry="12" fill="#ff6060"/>
<ellipse cx="60" cy="155" rx="6" ry="8" fill="#ff8080"/>
</g></g><rect width="200" height="200" fill="none" stroke="#888" stroke-width="1.2"/></g>
</g>

<!-- ROW 3 -->
<g transform="translate(0,1650.7)">
<text x="818" y="-4.5" font-size="10.8" text-anchor="middle" fill="#222">9h old IR Data</text>
<text x="1055.5" y="-4.5" font-size="10.8" text-anchor="middle" fill="#222">SHAP Value=-0.76 kts</text>
<g transform="translate(718,0)"><g clip-path="url(#ci)">
<rect width="200" height="200" fill="#8c8c8c"/>
<g filter="url(#bi)">
<rect x="-10" y="-10" width="220" height="220" fill="#8c8c8c"/>
<rect x="-10" y="-10" width="220" height="82" fill="#90e020"/>
<ellipse cx="60" cy="35" rx="35" ry="18" fill="#ff9000"/>
<ellipse cx="110" cy="12" rx="35" ry="15" fill="#ff2000"/>
<ellipse cx="75" cy="40" rx="12" ry="10" fill="#ff3000"/>
<ellipse cx="30" cy="15" rx="25" ry="12" fill="#ffd000"/>
<ellipse cx="170" cy="15" rx="20" ry="10" fill="#2060ff"/>
<ellipse cx="20" cy="55" rx="25" ry="18" fill="#20b030"/>
<ellipse cx="115" cy="48" rx="15" ry="15" fill="#0050ff"/>
<path d="M130 40 L190 60 L195 150 L170 150 L140 90 Z" fill="#e01800"/>
<ellipse cx="170" cy="120" rx="18" ry="25" fill="#800000"/>
<ellipse cx="130" cy="87" rx="25" ry="22" fill="#400000"/>
<circle cx="115" cy="88" r="6" fill="#808080"/>
<path d="M128 110 L210 140 L210 210 L128 210 Z" fill="#90e020"/>
<ellipse cx="150" cy="160" rx="12" ry="40" fill="#ff3000"/>
<ellipse cx="180" cy="165" rx="15" ry="25" fill="#ffd000"/>
<ellipse cx="190" cy="180" rx="10" ry="15" fill="#2050ff"/>
<path d="M-10 75 Q40 80 60 95 L110 100 L112 210 L-10 210 Z" fill="#909090"/>
<ellipse cx="100" cy="110" rx="18" ry="20" fill="#d0d0d0"/>
<path d="M108 105 L128 105 L130 210 L110 210 Z" fill="#0040ff"/>
<path d="M30 70 Q60 85 90 95 L90 105 Q55 95 25 80Z" fill="#0060ff"/>
</g></g><rect width="200" height="200" fill="none" stroke="#444" stroke-width="1"/></g>
<g transform="translate(955.3,0)"><g clip-path="url(#ci)">
<rect width="200" height="200" fill="#fff"/>
<rect width="200" height="200" filter="url(#nr)" opacity="0.35"/>
<rect width="200" height="200" filter="url(#nb)" opacity="0.25"/>
<g filter="url(#bs)" opacity="0.55">
<path d="M50 100 L95 98 L135 108 M80 112 L75 140 M105 110 L110 150 M95 30 L110 60" stroke="#6060ff" stroke-width="4" fill="none"/>
<ellipse cx="80" cy="92" rx="18" ry="6" fill="#ff6060"/>
<ellipse cx="78" cy="115" rx="5" ry="9" fill="#ff3030"/>
<ellipse cx="100" cy="125" rx="5" ry="10" fill="#ff5050"/>
<ellipse cx="65" cy="150" rx="8" ry="10" fill="#ff8080"/>
</g></g><rect width="200" height="200" fill="none" stroke="#888" stroke-width="1.2"/></g>
</g>

<!-- ROW 4 -->
<g transform="translate(0,1888.3)">
<text x="818" y="-4.5" font-size="10.8" text-anchor="middle" fill="#222">12h old IR Data</text>
<text x="1055.5" y="-4.5" font-size="10.8" text-anchor="middle" fill="#222">SHAP Value=-8.03 kts</text>
<g transform="translate(718,0)"><g clip-path="url(#ci)">
<rect width="200" height="200" fill="#858585"/>
<g filter="url(#bi)">
<rect x="-10" y="-10" width="220" height="220" fill="#858585"/>
<rect x="-10" y="-10" width="70" height="40" fill="#30c040"/>
<ellipse cx="30" cy="15" rx="20" ry="15" fill="#1040ff"/>
<ellipse cx="90" cy="30" rx="38" ry="35" fill="#ff9000"/>
<ellipse cx="95" cy="45" rx="18" ry="15" fill="#ff3000"/>
<ellipse cx="170" cy="35" rx="35" ry="40" fill="#ffd000"/>
<ellipse cx="155" cy="28" rx="14" ry="18" fill="#ff3000"/>
<ellipse cx="190" cy="28" rx="8" ry="8" fill="#2050ff"/>
<path d="M80 30 L110 30 L125 120 L120 210 L85 210 L90 110 Z" fill="#0040ff"/>
<path d="M105 20 L135 10 L145 100 L125 110 Z" fill="#60e000"/>
<path d="M125 80 L190 70 L210 130 L210 210 L125 210 Z" fill="#ff3000"/>
<ellipse cx="145" cy="135" rx="20" ry="28" fill="#800000"/>
<ellipse cx="180" cy="160" rx="15" ry="30" fill="#ff9000"/>
<ellipse cx="110" cy="190" rx="20" ry="12" fill="#40d030"/>
<path d="M-10 30 Q30 35 55 20 L80 40 L85 210 L-10 210 Z" fill="#858585"/>
<path d="M68 40 L84 50 L90 210 L70 210 Z" fill="#c8c8c8"/>
</g></g><rect width="200" height="200" fill="none" stroke="#444" stroke-width="1"/></g>
<g transform="translate(955.3,0)"><g clip-path="url(#ci)">
<rect width="200" height="200" fill="#fff"/>
<rect width="200" height="200" filter="url(#nr)" opacity="0.55"/>
<rect width="200" height="200" filter="url(#nb)" opacity="0.45"/>
<g filter="url(#bs)" opacity="0.85">
<path d="M55 25 L75 50 M15 60 L20 85 M40 60 L75 75 M30 88 L95 95 L135 80 L150 60 M95 95 L100 150 M95 95 L80 130 L70 160 M70 120 L40 130 M45 155 L35 180 M115 75 L130 110" stroke="#1818ff" stroke-width="3.5" fill="none"/>
<ellipse cx="60" cy="78" rx="8" ry="5" fill="#ff2020"/>
<ellipse cx="80" cy="85" rx="10" ry="5" fill="#ff1010"/>
<ellipse cx="45" cy="105" rx="8" ry="4" fill="#ff2020"/>
<ellipse cx="85" cy="110" rx="6" ry="8" fill="#ff2020"/>
<ellipse cx="105" cy="100" rx="6" ry="6" fill="#ff0000"/>
<ellipse cx="60" cy="130" rx="6" ry="8" fill="#ff3030"/>
<ellipse cx="75" cy="155" rx="6" ry="8" fill="#ff3030"/>
<ellipse cx="30" cy="140" rx="6" ry="6" fill="#ff6060"/>
<ellipse cx="110" cy="130" rx="6" ry="8" fill="#ff3030"/>
<ellipse cx="50" cy="45" rx="6" ry="5" fill="#ff5050"/>
</g></g><rect width="200" height="200" fill="none" stroke="#888" stroke-width="1.2"/></g>
</g>

<!-- right panel ticks and tick labels -->
<g stroke="#333" stroke-width="0.8">
<path d="M714 947h4M714 978.4h4M714 1009.8h4M714 1041.2h4M714 1072.6h4M714 1104h4M714 1135.4h4"/>
<path d="M714 1204h4M714 1235.4h4M714 1266.8h4M714 1298.2h4M714 1329.6h4M714 1361h4"/>
<path d="M714 1418.3h4M714 1449.7h4M714 1481.1h4M714 1512.5h4M714 1543.9h4M714 1575.3h4M714 1606.7h4"/>
<path d="M714 1652h4M714 1683.4h4M714 1714.8h4M714 1746.2h4M714 1777.6h4M714 1809h4M714 1840.4h4"/>
<path d="M714 1904.7h4M714 1936.1h4M714 1967.5h4M714 1998.9h4M714 2030.3h4M714 2061.7h4"/>
<path d="M951.3 947h4M951.3 978.4h4M951.3 1009.8h4M951.3 1041.2h4M951.3 1072.6h4M951.3 1104h4M951.3 1135.4h4"/>
<path d="M951.3 1204h4M951.3 1235.4h4M951.3 1266.8h4M951.3 1298.2h4M951.3 1329.6h4M951.3 1361h4"/>
<path d="M951.3 1418.3h4M951.3 1449.7h4M951.3 1481.1h4M951.3 1512.5h4M951.3 1543.9h4M951.3 1575.3h4M951.3 1606.7h4"/>
<path d="M951.3 1652h4M951.3 1683.4h4M951.3 1714.8h4M951.3 1746.2h4M951.3 1777.6h4M951.3 1809h4M951.3 1840.4h4"/>
<path d="M951.3 1904.7h4M951.3 1936.1h4M951.3 1967.5h4M951.3 1998.9h4M951.3 2030.3h4M951.3 2061.7h4"/>
<path d="M734 1138.3v4M760.7 1138.3v4M787.4 1138.3v4M814.1 1138.3v4M840.8 1138.3v4M867.5 1138.3v4M894.2 1138.3v4 M973.3 1138.3v4M999.9 1138.3v4M1026.5 1138.3v4M1053.1 1138.3v4M1079.7 1138.3v4M1106.3 1138.3v4M1132.9 1138.3v4"/>
<path d="M734 1375.7v4M760.7 1375.7v4M787.4 1375.7v4M814.1 1375.7v4M840.8 1375.7v4M867.5 1375.7v4M894.2 1375.7v4 M973.3 1375.7v4M999.9 1375.7v4M1026.5 1375.7v4M1053.1 1375.7v4M1079.7 1375.7v4M1106.3 1375.7v4M1132.9 1375.7v4"/>
<path d="M734 1613v4M760.7 1613v4M787.4 1613v4M814.1 1613v4M840.8 1613v4M867.5 1613v4M894.2 1613v4 M973.3 1613v4M999.9 1613v4M1026.5 1613v4M1053.1 1613v4M1079.7 1613v4M1106.3 1613v4M1132.9 1613v4"/>
<path d="M734 1850.7v4M760.7 1850.7v4M787.4 1850.7v4M814.1 1850.7v4M840.8 1850.7v4M867.5 1850.7v4M894.2 1850.7v4 M973.3 1850.7v4M999.9 1850.7v4M1026.5 1850.7v4M1053.1 1850.7v4M1079.7 1850.7v4M1106.3 1850.7v4M1132.9 1850.7v4"/>
<path d="M734 2088.3v4M760.7 2088.3v4M787.4 2088.3v4M814.1 2088.3v4M840.8 2088.3v4M867.5 2088.3v4M894.2 2088.3v4 M973.3 2088.3v4M999.9 2088.3v4M1026.5 2088.3v4M1053.1 2088.3v4M1079.7 2088.3v4M1106.3 2088.3v4M1132.9 2088.3v4"/>
</g>
<g font-size="9.5" text-anchor="end" fill="#222">
<text x="712" y="950.5">35</text><text x="712" y="981.9">34</text><text x="712" y="1013.3">33</text><text x="712" y="1044.7">32</text><text x="712" y="1076.1">31</text><text x="712" y="1107.5">30</text><text x="712" y="1138.9">29</text>
<text x="712" y="1207.5">34</text><text x="712" y="1238.9">33</text><text x="712" y="1270.3">32</text><text x="712" y="1301.7">31</text><text x="712" y="1333.1">30</text><text x="712" y="1364.5">29</text>
<text x="712" y="1421.8">34</text><text x="712" y="1453.2">33</text><text x="712" y="1484.6">32</text><text x="712" y="1516">31</text><text x="712" y="1547.4">30</text><text x="712" y="1578.8">29</text><text x="712" y="1610.2">28</text>
<text x="712" y="1655.5">33</text><text x="712" y="1686.9">32</text><text x="712" y="1718.3">31</text><text x="712" y="1749.7">30</text><text x="712" y="1781.1">29</text><text x="712" y="1812.5">28</text><text x="712" y="1843.9">27</text>
<text x="712" y="1908.2">31</text><text x="712" y="1939.6">30</text><text x="712" y="1971">29</text><text x="712" y="2002.4">28</text><text x="712" y="2033.8">27</text><text x="712" y="2065.2">26</text>
</g>
<g font-size="9.5" text-anchor="middle" fill="#222">
<text x="734" y="1151.3">140</text><text x="760.7" y="1151.3">141</text><text x="787.4" y="1151.3">142</text><text x="814.1" y="1151.3">143</text><text x="840.8" y="1151.3">144</text><text x="867.5" y="1151.3">145</text><text x="894.2" y="1151.3">146</text>
<text x="734" y="1388.7">140</text><text x="760.7" y="1388.7">141</text><text x="787.4" y="1388.7">142</text><text x="814.1" y="1388.7">143</text><text x="840.8" y="1388.7">144</text><text x="867.5" y="1388.7">145</text><text x="894.2" y="1388.7">146</text>
<text x="734" y="1626">140</text><text x="760.7" y="1626">141</text><text x="787.4" y="1626">142</text><text x="814.1" y="1626">143</text><text x="840.8" y="1626">144</text><text x="867.5" y="1626">145</text><text x="894.2" y="1626">146</text>
<text x="734" y="1863.7">140</text><text x="760.7" y="1863.7">141</text><text x="787.4" y="1863.7">142</text><text x="814.1" y="1863.7">143</text><text x="840.8" y="1863.7">144</text><text x="867.5" y="1863.7">145</text><text x="894.2" y="1863.7">146</text>
<text x="734" y="2101">140</text><text x="760.7" y="2101">141</text><text x="787.4" y="2101">142</text><text x="814.1" y="2101">143</text><text x="840.8" y="2101">144</text><text x="867.5" y="2101">145</text><text x="894.2" y="2101">146</text>
</g>

<!-- bottom colorbars -->
<text x="818" y="2121.5" font-size="9.5" text-anchor="middle" fill="#222">Brightness Temperature [K]</text>
<rect x="718" y="2125.7" width="200" height="12" fill="url(#gir)" stroke="#444" stroke-width="0.8"/>
<g font-size="6.3" text-anchor="middle" fill="#222">
<text x="717.3" y="2149">180</text><text x="748.3" y="2149">200</text><text x="779" y="2149">220</text><text x="809.7" y="2149">240</text><text x="840.3" y="2149">260</text><text x="871" y="2149">280</text><text x="901.7" y="2149">300</text>
</g>
<text x="1055.5" y="2121.5" font-size="9.5" text-anchor="middle" fill="#222">SHAP Values</text>
<rect x="955.3" y="2125.7" width="200.4" height="12" fill="url(#gse)" stroke="#444" stroke-width="0.8"/>
<g stroke="#333" stroke-width="0.8"><path d="M979.3 2137.7v3M1017.3 2137.7v3M1055 2137.7v3M1092.7 2137.7v3M1131 2137.7v3"/></g>
<g font-size="9.5" text-anchor="middle" fill="#222">
<text x="979.3" y="2150.5">−0.04</text><text x="1017.3" y="2150.5">−0.02</text><text x="1055" y="2150.5">0.00</text><text x="1092.7" y="2150.5">0.02</text><text x="1131" y="2150.5">0.04</text>
</g>
</svg>
</body></html>
